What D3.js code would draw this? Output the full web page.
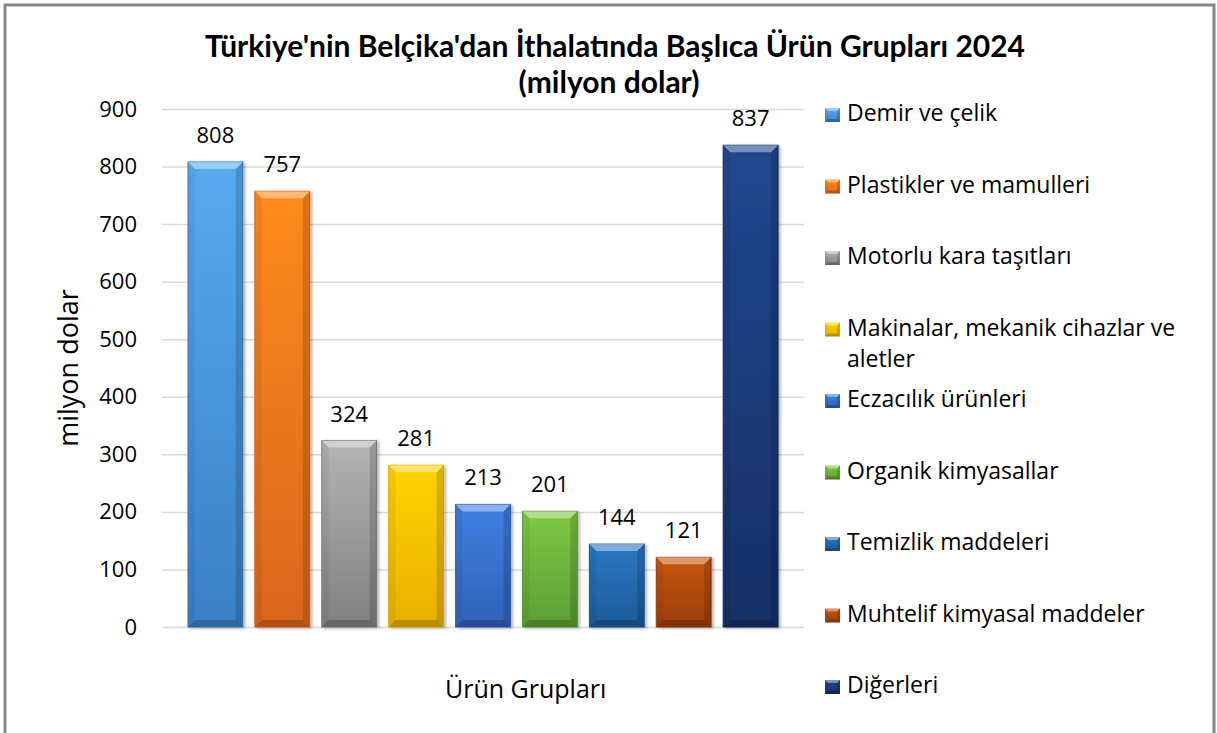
<!DOCTYPE html>
<html>
<head>
<meta charset="utf-8">
<script src="https://cdnjs.cloudflare.com/ajax/libs/d3/7.8.5/d3.min.js"></script>
<style>
  body { margin: 0; background: #fff; }
  svg text { font-family: "Open Sans", "Noto Sans", sans-serif; fill: #000; }
</style>
</head>
<body>
<div class="barchart"></div>
<script>
  // chart data
  var categories = ["Demir ve çelik", "Plastikler ve mamulleri", "Motorlu kara taşıtları",
    "Makinalar, mekanik cihazlar ve aletler", "Eczacılık ürünleri", "Organik kimyasallar",
    "Temizlik maddeleri", "Muhtelif kimyasal maddeler", "Diğerleri"];
  var values = [808, 757, 324, 281, 213, 201, 144, 121, 837];
  var topColors = ["#58aaf0", "#ff8a1e", "#b4b4b4", "#ffd400", "#3f7fe0", "#7ec843", "#2b78c4", "#c8560e", "#21478f"];
  var bottomColors = ["#3a80c4", "#d9661a", "#808080", "#e8b000", "#2f62b8", "#5c9e35", "#1c5a98", "#9a3f08", "#172f66"];
  var yTicks = [0, 100, 200, 300, 400, 500, 600, 700, 800, 900];
  var legendLines = { 3: ["Makinalar, mekanik cihazlar ve", "aletler"] };

  var W = 1217, H = 733;
  var plot = { left: 162, right: 804, top: 109, bottom: 627 };

  var svg = d3.select(".barchart").append("svg")
    .attr("width", W)
    .attr("height", H);

  var defs = svg.append("defs");
  categories.forEach(function(c, i) {
    var g = defs.append("linearGradient")
      .attr("id", "grad" + i)
      .attr("x1", 0).attr("y1", 0).attr("x2", 0).attr("y2", 1);
    g.append("stop").attr("offset", "0%").attr("stop-color", topColors[i]);
    g.append("stop").attr("offset", "100%").attr("stop-color", bottomColors[i]);
  });
  var shadow = defs.append("filter").attr("id", "shadow")
    .attr("x", "-20%").attr("y", "-10%").attr("width", "150%").attr("height", "130%");
  shadow.append("feDropShadow")
    .attr("dx", 2).attr("dy", 1).attr("stdDeviation", 1.5)
    .attr("flood-color", "#000").attr("flood-opacity", 0.3);

  // frame
  svg.append("rect")
    .attr("x", 5).attr("y", 5)
    .attr("width", 1209).attr("height", 780)
    .attr("fill", "none")
    .attr("stroke", "#878787")
    .attr("stroke-width", 3);

  var x = d3.scaleBand()
    .domain(categories)
    .range([plot.left, plot.right])
    .paddingInner(0.18)
    .paddingOuter(0.388);

  var y = d3.scaleLinear()
    .domain([0, 900])
    .range([plot.bottom, plot.top]);

  // gridlines + y axis
  var yAxis = d3.axisLeft(y)
    .tickValues(yTicks)
    .tickSize(-(plot.right - plot.left))
    .tickPadding(25);

  var gy = svg.append("g")
    .attr("class", "y axis")
    .attr("transform", "translate(" + plot.left + ",0)")
    .call(yAxis);
  gy.select(".domain").remove();
  gy.selectAll(".tick line")
    .attr("stroke", "#d9d9d9")
    .attr("stroke-width", 1.5);
  gy.selectAll(".tick text")
    .style("font-size", "22px")
    .attr("fill", "#000");

  function bevel(g, bx, by, bw, bh, b) {
    g.append("polygon")
      .attr("points", [[bx, by], [bx + bw, by], [bx + bw - b, by + b], [bx + b, by + b]].join(" "))
      .attr("fill", "#fff").attr("fill-opacity", 0.4);
    g.append("polygon")
      .attr("points", [[bx, by], [bx + b, by + b], [bx + b, by + bh - b], [bx, by + bh]].join(" "))
      .attr("fill", "#000").attr("fill-opacity", 0.05);
    g.append("polygon")
      .attr("points", [[bx + bw, by], [bx + bw - b, by + b], [bx + bw - b, by + bh - b], [bx + bw, by + bh]].join(" "))
      .attr("fill", "#000").attr("fill-opacity", 0.15);
    g.append("polygon")
      .attr("points", [[bx, by + bh], [bx + b, by + bh - b], [bx + bw - b, by + bh - b], [bx + bw, by + bh]].join(" "))
      .attr("fill", "#000").attr("fill-opacity", 0.2);
  }

  // bars
  var bars = svg.selectAll(".bar")
    .data(categories)
    .enter().append("g")
    .attr("class", "bar");

  bars.each(function(d, i) {
    var g = d3.select(this);
    var bx = x(d), by = y(values[i]), bw = x.bandwidth(), bh = y(0) - y(values[i]);
    g.append("rect")
      .attr("x", bx).attr("y", by)
      .attr("width", bw).attr("height", bh)
      .attr("fill", "url(#grad" + i + ")")
      .attr("stroke", bottomColors[i])
      .attr("stroke-width", 1)
      .attr("filter", "url(#shadow)");
    bevel(g, bx, by, bw, bh, 7);
  });

  // value labels
  svg.selectAll(".label")
    .data(categories)
    .enter().append("text")
    .attr("class", "label")
    .attr("x", function(d) { return x(d) + x.bandwidth() / 2; })
    .attr("y", function(d, i) { return y(values[i]) - 19; })
    .attr("text-anchor", "middle")
    .style("font-size", "22px")
    .text(function(d, i) { return values[i]; });

  // title
  var title1 = svg.append("text")
    .attr("x", 615).attr("y", 57)
    .attr("text-anchor", "middle")
    .style("font-family", "Lato, 'Open Sans', sans-serif")
    .style("font-weight", "bold")
    .style("font-size", "30px")
    .text("Türkiye'nin Belçika'dan İthalatında Başlıca Ürün Grupları 2024");
  if (Math.abs(title1.node().getComputedTextLength() - 818) > 10) {
    title1.attr("textLength", 818).attr("lengthAdjust", "spacingAndGlyphs");
  }
  svg.append("text")
    .attr("x", 609).attr("y", 93)
    .attr("text-anchor", "middle")
    .style("font-family", "Lato, 'Open Sans', sans-serif")
    .style("font-weight", "bold")
    .style("font-size", "30px")
    .text("(milyon dolar)");

  // axis titles
  svg.append("text")
    .attr("transform", "translate(78,368) rotate(-90)")
    .attr("text-anchor", "middle")
    .style("font-size", "27px")
    .text("milyon dolar");

  svg.append("text")
    .attr("x", 445).attr("y", 698)
    .style("font-size", "25px")
    .text("Ürün Grupları");

  // legend
  var legendY = d3.scaleLinear().domain([0, 8]).range([121, 693]);
  var legend = svg.selectAll(".legend")
    .data(categories)
    .enter().append("g")
    .attr("class", "legend")
    .attr("transform", function(d, i) { return "translate(825," + legendY(i) + ")"; });

  legend.each(function(d, i) {
    var g = d3.select(this);
    g.append("rect")
      .attr("x", 0).attr("y", -13)
      .attr("width", 15).attr("height", 14)
      .attr("fill", "url(#grad" + i + ")");
    bevel(g, 0, -13, 15, 14, 3);
    var t = g.append("text")
      .attr("x", 22).attr("y", 0)
      .style("font-size", "23px");
    var lines = legendLines[i] || [d];
    lines.forEach(function(l, k) {
      t.append("tspan").attr("x", 22).attr("dy", k === 0 ? 0 : 31).text(l);
    });
  });
</script>
</body>
</html>
